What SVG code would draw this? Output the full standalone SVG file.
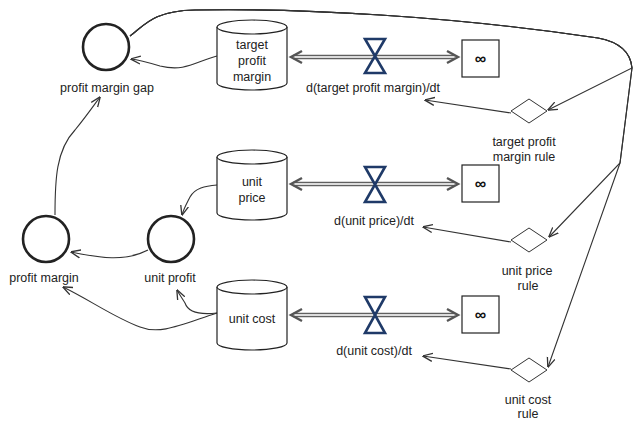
<svg xmlns="http://www.w3.org/2000/svg" width="633" height="423" viewBox="0 0 633 423">
<style>
text{font-family:"Liberation Sans",Arial,sans-serif;font-size:12.5px;fill:#222;text-anchor:middle}
.aux{fill:none;stroke:#222;stroke-width:2.6}
.stock{fill:#fff;stroke:#222;stroke-width:1.2}
.box{fill:#fff;stroke:#222;stroke-width:1.2}
.rule{fill:#fff;stroke:#333;stroke-width:1}
.link{fill:none;stroke:#333;stroke-width:1.1;marker-end:url(#arr)}
.pipeO{stroke:#606060;stroke-width:4.6;fill:none}
.pipeI{stroke:#dcdcdc;stroke-width:1.8;fill:none}
.head{fill:none;stroke:#555;stroke-width:2.4;stroke-linejoin:miter}
.valve{fill:none;stroke:#1f3a68;stroke-width:2.6;stroke-linejoin:miter}
.inf{font-size:16px;font-weight:bold;fill:#111}
</style>
<defs>
<marker id="arr" viewBox="0 0 10 10" refX="9.5" refY="5" markerWidth="10" markerHeight="10" markerUnits="userSpaceOnUse" orient="auto">
<path d="M0,1 L10,5 L0,9" fill="none" stroke="#333" stroke-width="1.3"/>
</marker>
</defs>
<rect width="633" height="423" fill="#fff"/>

<g id="connectors">
<path class="link" d="M217,56 C195,62 185,72 160,66 C150,63 140,60 131,59"/>
<path class="link" d="M55,215 C55,180 56,150 75,130 C85,118 92,108 100,97"/>
<path class="link" d="M217,185 C205,186 195,188 190,197 C187,203 184,208 182,215"/>
<path class="link" d="M148,250 C125,262 100,258 71,252"/>
<path class="link" d="M217,313 C200,315 188,312 185,303 C182,298 179,294 177,290"/>
<path class="link" d="M217,313 C180,325 160,335 140,327 C115,318 90,300 63,287"/>
<path class="link" d="M130,36 C145,25 152,11 195,10 C300,8 450,16 598,38 Q630,44 632,68 L548,110"/>
<path class="link" d="M130,36 C145,25 152,11 195,10 C300,8 450,16 598,38 Q630,44 632,68 L620,163 L549,237"/>
<path class="link" d="M130,36 C145,25 152,11 195,10 C300,8 450,16 598,38 Q630,44 632,68 L620,163 L548,367"/>
<path class="link" d="M511,113 L425,100"/>
<path class="link" d="M511,242 L423,227"/>
<path class="link" d="M511,369 L423,356"/>
</g>

<g id="flow_target">
<line class="pipeO" x1="293" y1="57" x2="455" y2="57"/>
<line class="pipeI" x1="293" y1="57" x2="455" y2="57"/>
<path class="head" d="M302,51 L291,57 L302,63"/>
<path class="head" d="M447,51 L458,57 L447,63"/>
<path class="valve" d="M365,39 L385,39 L375,56 L385,73 L365,73 L375,56 Z"/>
<text x="373" y="92">d(target profit margin)/dt</text>
</g>
<g id="flow_price">
<line class="pipeO" x1="293" y1="184" x2="455" y2="184"/>
<line class="pipeI" x1="293" y1="184" x2="455" y2="184"/>
<path class="head" d="M302,178 L291,184 L302,190"/>
<path class="head" d="M447,178 L458,184 L447,190"/>
<path class="valve" d="M365,167 L385,167 L375,184.5 L385,202 L365,202 L375,184.5 Z"/>
<text x="374" y="225">d(unit price)/dt</text>
</g>
<g id="flow_cost">
<line class="pipeO" x1="293" y1="315" x2="455" y2="315"/>
<line class="pipeI" x1="293" y1="315" x2="455" y2="315"/>
<path class="head" d="M302,309 L291,315 L302,321"/>
<path class="head" d="M447,309 L458,315 L447,321"/>
<path class="valve" d="M365,297 L385,297 L375,315 L385,333 L365,333 L375,315 Z"/>
<text x="374" y="355">d(unit cost)/dt</text>
</g>

<g id="profit_margin_gap">
<circle class="aux" cx="106" cy="47" r="23"/>
<text x="107" y="92">profit margin gap</text>
</g>
<g id="profit_margin">
<circle class="aux" cx="46" cy="239" r="23"/>
<text x="44" y="282">profit margin</text>
</g>
<g id="unit_profit">
<circle class="aux" cx="171" cy="239" r="23"/>
<text x="170" y="282">unit profit</text>
</g>

<g id="target_profit_margin">
<path class="stock" d="M217,27 A35,7 0 0,1 287,27 L287,83 A35,7 0 0,1 217,83 Z"/>
<path class="stock" d="M217,27 A35,7 0 0,0 287,27" fill="none"/>
<text x="252" y="49">target</text>
<text x="252" y="65">profit</text>
<text x="252" y="81">margin</text>
</g>
<g id="unit_price">
<path class="stock" d="M217,157 A35,7 0 0,1 287,157 L287,213 A35,7 0 0,1 217,213 Z"/>
<path class="stock" d="M217,157 A35,7 0 0,0 287,157" fill="none"/>
<text x="252" y="186">unit</text>
<text x="252" y="202">price</text>
</g>
<g id="unit_cost">
<path class="stock" d="M217,287 A35,7 0 0,1 287,287 L287,343 A35,7 0 0,1 217,343 Z"/>
<path class="stock" d="M217,287 A35,7 0 0,0 287,287" fill="none"/>
<text x="252" y="323">unit cost</text>
</g>

<g id="cloud_target">
<rect class="box" x="462" y="40" width="37" height="37"/>
<text class="inf" x="480.5" y="64">∞</text>
</g>
<g id="cloud_price">
<rect class="box" x="462" y="165" width="37" height="37"/>
<text class="inf" x="480.5" y="189">∞</text>
</g>
<g id="cloud_cost">
<rect class="box" x="462" y="296" width="37" height="37"/>
<text class="inf" x="480.5" y="320">∞</text>
</g>

<g id="target_profit_margin_rule">
<path class="rule" d="M511,111 L529,99 L547,111 L529,123 Z"/>
<text x="524" y="146">target profit</text>
<text x="524" y="161">margin rule</text>
</g>
<g id="unit_price_rule">
<path class="rule" d="M511,240 L529,228 L547,240 L529,252 Z"/>
<text x="527" y="275">unit price</text>
<text x="528" y="290">rule</text>
</g>
<g id="unit_cost_rule">
<path class="rule" d="M511,370 L529,358 L547,370 L529,382 Z"/>
<text x="528" y="404">unit cost</text>
<text x="528" y="418">rule</text>
</g>
</svg>
